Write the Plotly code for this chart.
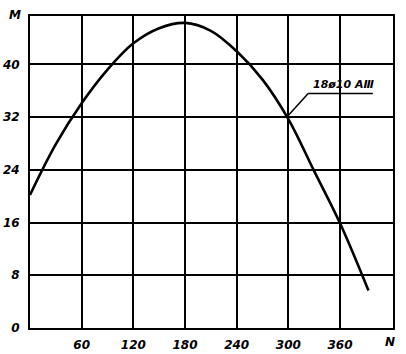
import plotly.graph_objects as go

N_vals = [0, 30, 60, 90, 120, 150, 180, 210, 240, 270, 300, 330, 360, 393]
M_vals = [20.2, 27.9, 34.1, 39.2, 43.2, 45.5, 46.3, 45.1, 42.0, 37.7, 31.7, 23.8, 15.9, 5.7]
x_ticks = [60, 120, 180, 240, 300, 360]
y_ticks = [0, 8, 16, 24, 32, 40]
label_text = "18ø10 AⅢ"

FONT = "DejaVu Sans"
TF = dict(family=FONT, size=12, style="italic", weight="bold", color="black")

fig = go.Figure()
fig.add_trace(go.Scatter(x=N_vals, y=M_vals, mode="lines",
                         line=dict(color="black", width=2.6, shape="spline", smoothing=1.0),
                         hoverinfo="skip", showlegend=False))

fig.update_layout(
    width=406, height=354,
    margin=dict(l=30, r=13, t=16, b=26, autoexpand=False),
    paper_bgcolor="white", plot_bgcolor="white",
    showlegend=False,
    font=dict(family=FONT, color="black"),
)
fig.update_xaxes(range=[0, 421.5], tickvals=x_ticks, ticktext=[str(v) for v in x_ticks],
                 showgrid=True, gridcolor="black", gridwidth=1.8,
                 showline=True, linecolor="black", linewidth=2, mirror=True,
                 ticks="", zeroline=False, automargin=False, ticklabelstandoff=5,
                 tickfont=TF)
fig.update_yaxes(range=[0, 47.35], tickvals=y_ticks, ticktext=[str(v) for v in y_ticks],
                 showgrid=True, gridcolor="black", gridwidth=1.8,
                 showline=True, linecolor="black", linewidth=2, mirror=True,
                 ticks="", zeroline=False, automargin=False, ticklabelstandoff=6,
                 tickfont=TF)

# axis names
fig.add_annotation(text="M", xref="paper", yref="paper", x=-0.041, y=1.003,
                   xanchor="center", yanchor="middle", showarrow=False, font=TF)
fig.add_annotation(text="N", xref="paper", yref="paper", x=0.992, y=-0.045,
                   xanchor="center", yanchor="middle", showarrow=False, font=TF)

# curve label with leader line
fig.add_annotation(text=label_text, x=365, y=36.9, xref="x", yref="y",
                   xanchor="center", yanchor="middle", showarrow=False,
                   font=dict(family=FONT, size=11, style="italic", weight="bold", color="black"))
fig.add_shape(type="line", x0=298, y0=32, x1=323, y1=35.6,
              line=dict(color="black", width=1.5))
fig.add_shape(type="line", x0=323, y0=35.6, x1=398, y1=35.6,
              line=dict(color="black", width=1.5))

fig.write_html("out.html")
